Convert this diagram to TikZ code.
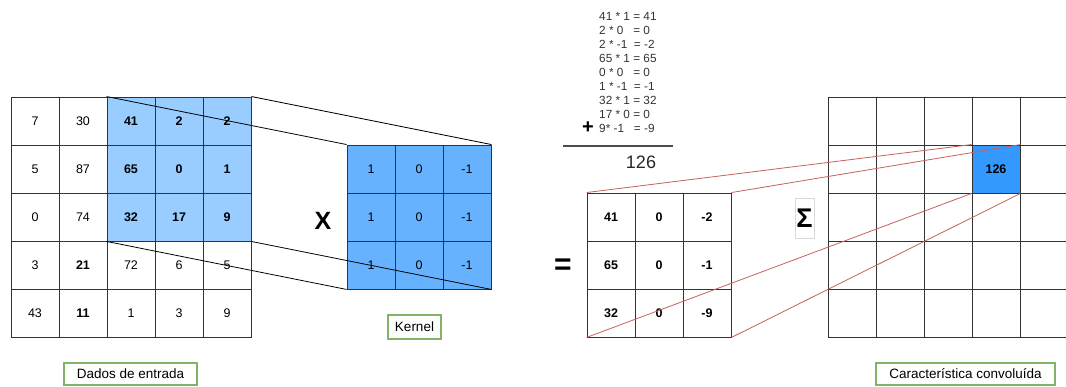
\documentclass[tikz,border=0pt]{standalone}
\usepackage{fontspec}
\setmainfont{Liberation Sans}
\usetikzlibrary{positioning,calc}
\definecolor{cnvLight}{HTML}{99CCFF}
\definecolor{cnvKernel}{HTML}{66B2FF}
\definecolor{cnvOut}{HTML}{3399FF}
\definecolor{cnvGrid}{HTML}{333333}
\definecolor{cnvRed}{HTML}{C0625E}
\definecolor{cnvGreen}{HTML}{82B366}
\newcommand\cellfont{\fontsize{12.5}{15}\selectfont}

\begin{document}
\begin{tikzpicture}[
  x=1pt,y=-1pt,
  cell/.style={draw=cnvGrid,line width=.9pt,minimum size=48pt,inner sep=0pt,font=\cellfont},
  num/.style={},
  bnum/.style={font=\cellfont\bfseries},
  hot/.style={fill=cnvLight,font=\cellfont\bfseries},
  link/.style={draw=black,line width=.8pt},
  redlink/.style={draw=cnvRed,line width=.8pt},
  prod/.style={anchor=west,inner sep=0pt,font=\fontsize{11.8}{13}\selectfont,text=black!80},
  caption/.style={draw=cnvGreen,line width=1.3pt,fill=white,inner sep=0pt,minimum height=22pt,font=\fontsize{13.5}{15}\selectfont},
  sign/.style={inner sep=0pt,font=\bfseries}
]
  \useasboundingbox (0,0) rectangle (1066,387);
  \foreach \r/\row in {1/{7/num,30/num,41/hot,2/hot,2/hot},
                       2/{5/num,87/num,65/hot,0/hot,1/hot},
                       3/{0/num,74/num,32/hot,17/hot,9/hot},
                       4/{3/num,21/bnum,72/num,6/num,5/num},
                       5/{43/num,11/bnum,1/num,3/num,9/num}}{
    \foreach \v/\s [count=\c] in \row
      \node[cell,\s] (in-\r-\c) at ({35+48*(\c-1)},{121+48*(\r-1)}) {\v};
  }
  \foreach \r in {1,2,3}{
    \foreach \v [count=\c] in {1,0,-1}
      \node[cell,fill=cnvKernel] (ker-\r-\c) at ({371+48*(\c-1)},{169+48*(\r-1)}) {\v};
  }
  \foreach \r/\row in {1/{41,0,-2},2/{65,0,-1},3/{32,0,-9}}{
    \foreach \v [count=\c] in \row
      \node[cell,bnum] (res-\r-\c) at ({611+48*(\c-1)},{217+48*(\r-1)}) {\v};
  }
  \foreach \r in {1,...,5}{
    \foreach \c in {1,...,5}
      \node[cell] (out-\r-\c) at ({852+48*(\c-1)},{121+48*(\r-1)}) {};
  }
  \node[cell,bnum,fill=cnvOut] (val) at (out-2-4) {126};

  \draw[link] (in-1-3.north west) -- (ker-1-1.north west);
  \draw[link] (in-1-5.north east) -- (ker-1-3.north east);
  \draw[link] (in-3-3.south west) -- (ker-3-1.south west);
  \draw[link] (in-3-5.south east) -- (ker-3-3.south east);
  \draw[redlink] (res-1-1.north west) -- (val.north west);
  \draw[redlink] (res-1-3.north east) -- (val.north east);
  \draw[redlink] (res-3-1.south west) -- (val.south west);
  \draw[redlink] (res-3-3.south east) -- (val.south east);

  \foreach \t [count=\i] in {41 * 1 = 41,2 * 0\ \ \ = 0,2 * -1\ \ = -2,65 * 1 = 65,
                             0 * 0\ \ \ = 0,1 * -1\ \ = -1,32 * 1 = 32,17 * 0 = 0,9* -1\ \ \ = -9}
    \node[prod] (prod-\i) at (599,{16+14*(\i-1)}) {\t};
  \node[sign,font=\fontsize{20}{20}\selectfont\bfseries] (plus) at (588,128) {+};
  \draw[draw=black!70,line width=1.2pt] (563,146) -- (673,146);
  \node[inner sep=0pt,font=\fontsize{18}{20}\selectfont,text=black!85] (total) at (641,162) {126};

  \node[sign,font=\fontsize{25}{25}\selectfont\bfseries] (times) at (323,221) {X};
  \node[sign,font=\fontsize{30}{30}\selectfont\bfseries] (equals) at (563,267) {=};
  \node[draw=black!15,line width=.6pt,minimum width=19pt,minimum height=40pt,inner sep=0pt,
        font=\fontsize{27}{27}\selectfont\bfseries] (sigma) at (804.5,218.5) {Σ};

  \node[caption,minimum width=133pt] (lab-in) at (130.5,374) {Dados de entrada};
  \node[caption,minimum width=53pt,minimum height=24pt] (lab-ker) at (414.5,327) {Kernel};
  \node[caption,minimum width=179pt] (lab-out) at (965.5,374) {Característica convoluída};
\end{tikzpicture}
\end{document}
